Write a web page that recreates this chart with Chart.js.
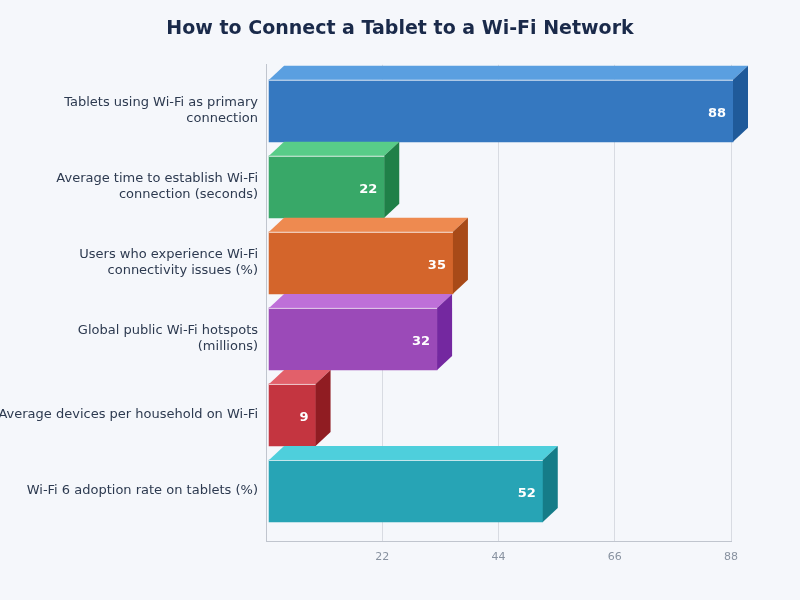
<!DOCTYPE html>
<html>
<head>
<meta charset="utf-8">
<title>How to Connect a Tablet to a Wi-Fi Network</title>
<script src="https://cdn.jsdelivr.net/npm/chart.js@4"></script>
<style>
    html, body { margin: 0; padding: 0; background: #f5f7fb; }
    #wrap { width: 800px; height: 600px; }
</style>
</head>
<body>
<div id="wrap"><canvas id="wifiChart" width="800" height="600"></canvas></div>
<script>
const categories = [
    ["Tablets using Wi-Fi as primary", "connection"],
    ["Average time to establish Wi-Fi", "connection (seconds)"],
    ["Users who experience Wi-Fi", "connectivity issues (%)"],
    ["Global public Wi-Fi hotspots", "(millions)"],
    ["Average devices per household on Wi-Fi"],
    ["Wi-Fi 6 adoption rate on tablets (%)"],
];
const values = [88, 22, 35, 32, 9, 52];
const xTicks = [22, 44, 66, 88];

const frontColors = ["#3578c0", "#38a868", "#d4652b", "#9b4ab8", "#c43540", "#27a4b5"];
const topColors = ["#5a9fe0", "#58cc88", "#ee8a50", "#be70d8", "#e2606a", "#4ecfdc"];
const sideColors = ["#1f5a9a", "#1f8048", "#a84a18", "#7428a0", "#901c22", "#157c88"];

const depthX = 15;
const depthY = 14;
const barShift = 2;

function face(ctx, points, color) {
    ctx.fillStyle = color;
    ctx.beginPath();
    points.forEach((p, i) => (i ? ctx.lineTo(p[0], p[1]) : ctx.moveTo(p[0], p[1])));
    ctx.closePath();
    ctx.fill();
}

// top and side faces, highlight and value label on each bar
const box3d = {
    id: "box3d",
    beforeDatasetsDraw(chart) {
        chart.ctx.save();
        chart.ctx.translate(barShift, 0);
    },
    afterDatasetsDraw(chart) {
        const ctx = chart.ctx;
        chart.getDatasetMeta(0).data.forEach((bar, i) => {
            const left = bar.base;
            const right = bar.x;
            const top = bar.y - bar.height / 2;
            const bottom = bar.y + bar.height / 2;

            face(ctx, [[left, top], [left + depthX, top - depthY], [right + depthX, top - depthY], [right, top]], topColors[i]);
            face(ctx, [[right, top], [right + depthX, top - depthY], [right + depthX, bottom - depthY], [right, bottom]], sideColors[i]);

            ctx.strokeStyle = "rgba(255,255,255,0.75)";
            ctx.lineWidth = 1;
            ctx.beginPath();
            ctx.moveTo(left, top + 0.5);
            ctx.lineTo(right, top + 0.5);
            ctx.stroke();

            ctx.fillStyle = "#ffffff";
            ctx.font = "bold 13px 'DejaVu Sans'";
            ctx.textAlign = "right";
            ctx.textBaseline = "middle";
            ctx.fillText(values[i], right - 7, bar.y + 3);
        });
        ctx.restore();
    },
};

document.addEventListener("DOMContentLoaded", function () {
    const ctx = document.getElementById("wifiChart").getContext("2d");

    new Chart(ctx, {
        type: "bar",
        plugins: [box3d],
        data: {
            datasets: [
                {
                    data: values.map((v, i) => ({ x: v, y: i })),
                    backgroundColor: frontColors,
                    borderWidth: 0,
                    barThickness: 62,
                    base: 0.2,
                    clip: false,
                },
            ],
        },
        options: {
            indexAxis: "y",
            responsive: false,
            animation: false,
            layout: { padding: 0 },
            plugins: {
                legend: { display: false },
                tooltip: { enabled: false },
                title: {
                    display: true,
                    text: "How to Connect a Tablet to a Wi-Fi Network",
                    color: "#1a2a4a",
                    font: { family: "'DejaVu Sans'", size: 19, weight: "bold" },
                    padding: { top: 18, bottom: 24 },
                },
            },
            scales: {
                x: {
                    type: "linear",
                    min: 0,
                    max: 88,
                    afterBuildTicks(axis) {
                        axis.ticks = xTicks.map((v) => ({ value: v }));
                    },
                    afterFit(axis) {
                        axis.height = 59;
                    },
                    grid: { color: "#d8dbe2", drawTicks: false },
                    border: { color: "#c0c5ce" },
                    ticks: {
                        color: "#8892a0",
                        font: { family: "'DejaVu Sans'", size: 11 },
                        padding: 10,
                        maxRotation: 0,
                    },
                },
                y: {
                    type: "linear",
                    reverse: true,
                    offset: false,
                    min: -0.605,
                    max: 5.658,
                    afterFit(axis) {
                        axis.width = 266;
                    },
                    grid: { display: false },
                    border: { color: "#c0c5ce" },
                    ticks: {
                        stepSize: 1,
                        includeBounds: false,
                        autoSkip: false,
                        color: "#2d3a50",
                        font: { family: "'DejaVu Sans'", size: 13 },
                        padding: 0,
                        callback: function (value) {
                            return categories[value];
                        },
                    },
                },
                // empty axis that holds the right margin so the title stays centred on the page
                rightGap: {
                    type: "linear",
                    position: "right",
                    afterFit(axis) {
                        axis.width = 69;
                    },
                    grid: { display: false },
                    border: { display: false },
                    ticks: { display: false },
                },
            },
        },
    });
});
</script>
</body>
</html>
